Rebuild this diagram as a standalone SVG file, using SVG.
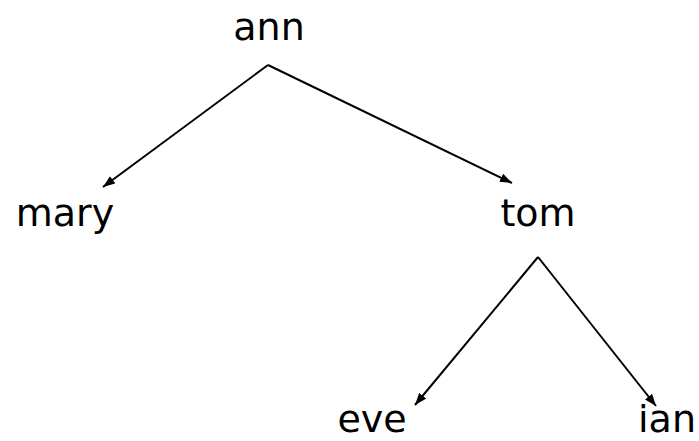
<svg xmlns="http://www.w3.org/2000/svg" width="699" height="441" viewBox="0 0 699 441">
<style>
.t{font-family:"DejaVu Sans","Verdana",sans-serif;font-size:38px;fill:#000;text-anchor:middle}
.c{stroke:#000;stroke-width:2;fill:none;marker-end:url(#ah)}
</style>
<defs>
<marker id="ah" viewBox="0 0 12 10" refX="12" refY="5" markerWidth="12" markerHeight="10" markerUnits="userSpaceOnUse" orient="auto">
<path d="M0,0.5 L12,5 L0,9.5 z" fill="#000"/>
</marker>
</defs>
<rect width="699" height="441" fill="#fff"/>
<g id="connectors">
<line class="c" x1="268" y1="65" x2="103" y2="187"/>
<line class="c" x1="268" y1="65" x2="512" y2="183"/>
<line class="c" x1="538" y1="257" x2="415" y2="405"/>
<line class="c" x1="538" y1="257" x2="656" y2="406"/>
</g>
<g id="ann"><text class="t" x="269" y="40">ann</text></g>
<g id="mary"><text class="t" x="65" y="226">mary</text></g>
<g id="tom"><text class="t" x="538" y="226">tom</text></g>
<g id="eve"><text class="t" x="372" y="432">eve</text></g>
<g id="ian"><text class="t" x="667" y="432">ian</text></g>
</svg>
